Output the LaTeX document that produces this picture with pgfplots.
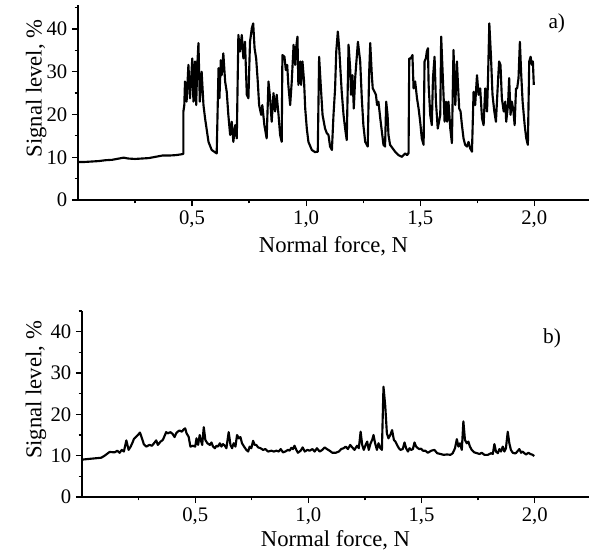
\documentclass[border=0pt]{standalone}
\usepackage{fontspec}
\setmainfont{Liberation Serif}
\usepackage{pgfplots}
\pgfplotsset{compat=1.18}
\pgfplotsset{
 myax/.style={
  scale only axis,
  axis x line*=bottom, axis y line*=left,
  axis line style={-, line width=0.9pt},
  xmin=0, xmax=2.24, ymin=0,
  xtick={0.5,1,1.5,2}, minor xtick={0.25,0.75,1.25,1.75},
  ytick={0,10,20,30,40}, minor ytick={5,15,25,35,45},
  tick align=outside,
  major tick length=4.5pt, minor tick length=2.5pt,
  tick style={black, line width=0.9pt},
  tick label style={font=\fontsize{15.5}{17}\selectfont},
  label style={font=\fontsize{17}{19}\selectfont},
  /pgf/number format/assume math mode=true,
  xticklabel={\pgfmathprintnumber[fixed,fixed zerofill,precision=1,use comma,assume math mode=true]{\tick}},
  xlabel={Normal force, N},
  ylabel={Signal level, \%},
  clip=false,
 }
}
\begin{document}
\begin{tikzpicture}
\useasboundingbox (0,0) rectangle (441.75pt,-414.75pt);
% ---------- a) ----------
\begin{axis}[myax,
  at={(58.5pt,-150pt)}, anchor=south west,
  width=383.25pt, height=146.25pt, ymax=45.6,
  ylabel style={at={(axis description cs:-0.082,0.572)}, anchor=center},
  xlabel style={at={(axis description cs:0.5,-0.235)}, anchor=center},
]
\addplot[black, line width=1.6pt, line join=round] coordinates {
(0,8.9)(0.03,8.9)(0.06,9.0)(0.09,9.1)(0.12,9.3)(0.15,9.4)(0.18,9.7)(0.2,9.9)(0.22,9.7)(0.25,9.6)(0.28,9.7)(0.31,9.8)(0.34,10.1)(0.37,10.4)(0.40,10.4)(0.43,10.5)(0.455,10.7)(0.462,10.8)
(0.462,20.7)(0.466,22.2)(0.469,27.7)(0.476,23.0)(0.484,31.6)(0.491,23.8)(0.501,33.1)(0.506,23.0)(0.513,32.4)(0.518,22.2)(0.523,31.6)(0.528,36.7)(0.534,23.0)(0.542,30.0)(0.550,22.2)(0.557,19.1)(0.572,13.6)(0.586,11.7)(0.608,10.9)(0.616,30.8)(0.620,23.8)(0.626,32.7)(0.630,29.2)(0.637,34.3)(0.645,27.7)(0.652,25.3)(0.659,19.9)(0.667,15.2)(0.674,18.3)(0.681,13.6)(0.689,17.5)(0.696,14.4)(0.703,38.6)(0.710,34.7)(0.718,38.6)(0.725,33.1)(0.732,37.0)(0.740,24.6)(0.747,23.8)(0.754,37.0)(0.762,40.2)(0.768,41.3)(0.774,35.5)(0.781,33.1)(0.788,27.7)(0.794,22.2)(0.803,19.9)(0.808,22.2)(0.817,17.5)(0.827,14.4)(0.835,27.7)(0.842,23.8)(0.849,18.3)(0.857,25.0)(0.864,20.7)(0.871,24.6)(0.879,19.9)(0.886,15.2)(0.893,13.6)(0.896,33.9)(0.905,33.5)(0.911,30.4)(0.917,31.6)(0.922,26.9)(0.930,22.2)(0.937,27.7)(0.945,36.3)(0.952,31.6)(0.956,35.5)(0.962,38.2)(0.966,26.9)(0.974,32.4)(0.978,26.9)(0.984,32.4)(0.991,27.7)(0.996,21.4)(1.003,16.7)(1.010,13.6)(1.025,11.7)(1.039,11.2)(1.051,11.3)(1.057,33.5)(1.064,26.9)(1.072,19.9)(1.083,16.7)(1.091,15.6)(1.098,15.2)(1.105,12.5)(1.113,11.7)(1.120,19.9)(1.127,26.1)(1.132,34.7)(1.139,39.4)(1.145,35.5)(1.150,30.8)(1.156,25.3)(1.164,19.9)(1.171,16.7)(1.178,14.0)(1.186,36.3)(1.193,30.8)(1.197,24.6)(1.203,29.2)(1.209,21.4)(1.215,28.5)(1.227,37.0)(1.237,32.4)(1.244,23.8)(1.251,17.5)(1.259,13.6)(1.270,12.5)(1.276,29.2)(1.281,36.7)(1.288,29.2)(1.292,26.1)(1.300,25.3)(1.306,24.6)(1.311,22.2)(1.317,23.0)(1.325,19.1)(1.332,16.0)(1.339,12.9)(1.346,12.5)(1.351,23.0)(1.357,19.9)(1.361,15.2)(1.368,12.9)(1.379,12.1)(1.390,11.3)(1.405,10.5)(1.420,10.1)(1.434,10.9)(1.442,10.5)(1.449,10.9)(1.452,33.1)(1.459,33.1)(1.466,33.9)(1.471,26.1)(1.478,27.7)(1.486,23.8)(1.493,21.4)(1.500,18.3)(1.507,14.4)(1.515,12.9)(1.519,32.4)(1.525,33.1)(1.529,34.7)(1.534,35.5)(1.537,26.9)(1.544,19.9)(1.551,17.5)(1.556,28.5)(1.563,33.5)(1.569,23.0)(1.577,16.7)(1.588,19.9)(1.592,38.2)(1.600,27.7)(1.607,18.3)(1.613,23.0)(1.618,18.3)(1.624,23.0)(1.632,16.7)(1.639,13.3)(1.646,35.1)(1.654,22.2)(1.661,32.4)(1.665,27.7)(1.671,21.4)(1.677,20.7)(1.683,17.5)(1.690,14.4)(1.697,12.9)(1.705,12.5)(1.712,13.6)(1.719,12.1)(1.727,11.3)(1.734,25.3)(1.741,22.2)(1.749,29.2)(1.756,24.6)(1.763,26.1)(1.771,19.1)(1.778,17.5)(1.785,26.1)(1.793,20.7)(1.797,27.7)(1.803,41.3)(1.810,33.9)(1.817,24.6)(1.825,20.7)(1.832,18.3)(1.841,27.7)(1.846,32.4)(1.852,31.6)(1.858,23.8)(1.866,20.7)(1.873,23.0)(1.877,18.3)(1.885,22.2)(1.890,28.5)(1.896,19.9)(1.902,23.0)(1.909,20.7)(1.914,17.5)(1.920,26.1)(1.925,26.1)(1.931,28.5)(1.937,37.0)(1.943,29.2)(1.949,23.0)(1.958,17.5)(1.965,14.4)(1.972,12.9)(1.978,32.4)(1.984,33.5)(1.990,31.6)(1.994,32.4)(1.998,26.9)
};
\node[font=\fontsize{16}{18}\selectfont] at (axis description cs:0.937,0.908) {a)};
\end{axis}
% ---------- b) ----------
\begin{axis}[myax,
  at={(61.5pt,-372.75pt)}, anchor=south west,
  width=380.25pt, height=139.5pt, ymax=45,
  ylabel style={at={(axis description cs:-0.091,0.575)}, anchor=center},
  xlabel style={at={(axis description cs:0.5,-0.235)}, anchor=center},
]
\addplot[black, line width=1.6pt, line join=round] coordinates {
(0,9.0)(0.009,9.1)(0.085,9.5)(0.100,10.0)(0.122,10.9)(0.144,10.8)(0.156,11.2)(0.166,10.7)(0.176,11.4)(0.185,11.0)(0.196,13.7)(0.206,11.4)(0.215,12.2)(0.222,13.0)(0.229,14.0)(0.240,14.6)(0.247,15.0)(0.256,15.6)(0.265,14.2)(0.273,12.8)(0.284,12.2)(0.298,12.6)(0.309,12.4)(0.321,13.2)(0.328,13.7)(0.335,12.6)(0.347,13.4)(0.357,13.8)(0.365,14.8)(0.372,15.7)(0.379,15.4)(0.391,15.7)(0.401,15.2)(0.409,14.5)(0.416,15.4)(0.423,15.8)(0.431,16.1)(0.441,15.8)(0.450,16.4)(0.456,16.6)(0.462,15.4)(0.471,14.6)(0.479,12.2)(0.490,12.4)(0.500,12.2)(0.506,14.2)(0.513,12.6)(0.520,15.0)(0.525,13.8)(0.531,12.6)(0.538,16.9)(0.545,13.8)(0.554,13.0)(0.565,12.6)(0.572,13.2)(0.579,12.2)(0.587,11.8)(0.594,12.4)(0.601,12.2)(0.609,13.0)(0.616,12.2)(0.623,12.8)(0.631,12.4)(0.638,11.8)(0.648,15.7)(0.656,12.6)(0.663,11.8)(0.670,13.0)(0.678,12.2)(0.685,15.0)(0.693,14.2)(0.700,14.5)(0.707,13.0)(0.716,12.2)(0.726,11.4)(0.734,11.0)(0.741,12.2)(0.748,11.8)(0.756,13.6)(0.763,12.6)(0.770,12.6)(0.778,12.0)(0.789,11.8)(0.800,11.4)(0.810,11.6)(0.822,11.0)(0.837,11.2)(0.848,11.0)(0.859,11.2)(0.869,11.0)(0.878,11.6)(0.888,10.8)(0.898,11.0)(0.910,11.4)(0.917,11.2)(0.925,11.9)(0.932,11.6)(0.939,12.4)(0.947,11.4)(0.954,10.7)(0.966,11.2)(0.975,12.0)(0.984,11.0)(0.996,11.4)(1.006,11.2)(1.018,11.6)(1.028,11.0)(1.038,11.8)(1.050,11.0)(1.062,11.4)(1.072,12.0)(1.082,11.6)(1.094,11.2)(1.106,10.7)(1.121,10.7)(1.135,11.0)(1.145,11.6)(1.156,11.8)(1.165,12.2)(1.175,11.6)(1.185,12.6)(1.194,12.0)(1.204,11.4)(1.215,12.4)(1.223,11.8)(1.231,15.8)(1.238,12.6)(1.245,11.4)(1.253,12.6)(1.260,13.4)(1.267,11.4)(1.275,13.0)(1.282,13.8)(1.288,15.0)(1.295,13.0)(1.303,11.4)(1.310,13.0)(1.318,11.8)(1.325,11.4)(1.332,26.7)(1.340,21.9)(1.347,15.4)(1.354,14.2)(1.362,15.0)(1.370,16.2)(1.378,13.8)(1.385,13.4)(1.392,12.6)(1.400,11.8)(1.407,11.4)(1.417,11.6)(1.425,13.2)(1.432,11.8)(1.440,11.0)(1.447,11.8)(1.454,11.4)(1.462,11.6)(1.469,13.2)(1.476,12.2)(1.484,11.8)(1.491,11.6)(1.498,11.7)(1.506,11.2)(1.517,11.2)(1.528,10.7)(1.543,11.2)(1.557,11.4)(1.569,10.6)(1.584,10.4)(1.598,10.2)(1.613,10.3)(1.628,10.2)(1.638,10.6)(1.648,11.8)(1.656,14.0)(1.663,12.2)(1.670,13.0)(1.678,11.4)(1.685,18.3)(1.692,13.8)(1.700,13.0)(1.707,13.4)(1.714,12.2)(1.722,11.4)(1.733,10.8)(1.746,10.6)(1.756,10.4)(1.766,10.7)(1.778,10.2)(1.793,10.2)(1.807,10.6)(1.815,10.4)(1.822,12.8)(1.829,11.0)(1.837,10.6)(1.844,11.6)(1.851,11.0)(1.859,12.2)(1.866,11.0)(1.873,11.8)(1.881,15.8)(1.888,13.0)(1.895,11.4)(1.903,10.7)(1.910,10.6)(1.917,10.6)(1.932,11.6)(1.940,10.7)(1.947,11.0)(1.954,10.6)(1.962,10.3)(1.972,10.7)(1.981,10.4)(1.991,10.2)(1.998,9.9)
};
\node[font=\fontsize{16}{18}\selectfont] at (axis description cs:0.927,0.855) {b)};
\end{axis}
\end{tikzpicture}
\end{document}
